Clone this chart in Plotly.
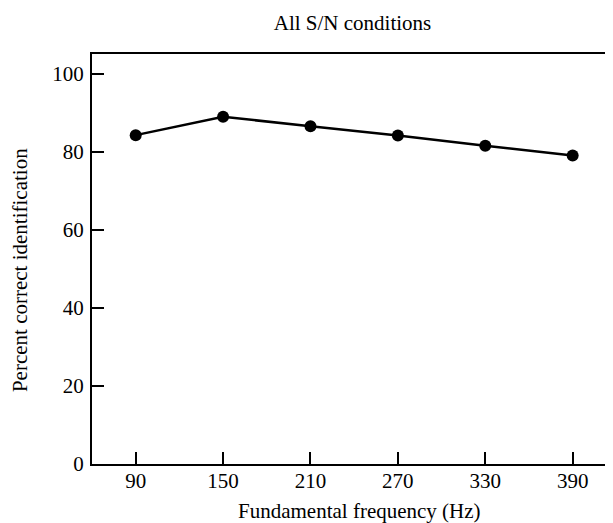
import plotly.graph_objects as go

freq_hz = [90, 150, 210, 270, 330, 390]
percent_correct = [84.3, 89.0, 86.6, 84.2, 81.6, 79.1]
x_ticks = [90, 150, 210, 270, 330, 390]
y_ticks = [0, 20, 40, 60, 80, 100]

FONT = "Liberation Serif"

# The page body has an 8px default margin, so the figure is sized to fit the window.
fig = go.Figure()
fig.add_trace(go.Scatter(
    x=freq_hz, y=percent_correct, mode="lines+markers",
    line=dict(color="black", width=2.5),
    marker=dict(color="black", size=12),
    showlegend=False,
))

fig.update_layout(
    width=605, height=515,
    margin=dict(l=84, r=0, t=46, b=59),
    paper_bgcolor="white", plot_bgcolor="white",
    font=dict(family=FONT, size=21, color="black"),
    title=dict(text="All S/N conditions", x=0.5, xref="paper",
               y=1 - 15 / 515, yref="container", yanchor="middle",
               font=dict(family=FONT, size=21, color="black")),
    xaxis=dict(range=[60, 417.7], tickvals=x_ticks, ticks="inside", ticklen=12,
               tickwidth=1.5, tickcolor="black", showline=True, linewidth=2,
               linecolor="black", mirror=True, showgrid=False, zeroline=False,
               ticklabelstandoff=-3),
    yaxis=dict(range=[0, 105.1], tickvals=y_ticks, ticks="inside", ticklen=12,
               tickwidth=1.5, tickcolor="black", showline=True, linewidth=2,
               linecolor="black", showgrid=False, zeroline=False,
               ticklabelstandoff=2),
    annotations=[
        dict(text="Fundamental frequency (Hz)", xref="paper", yref="paper",
             x=0.514, y=0, yanchor="middle", yshift=-47, showarrow=False,
             font=dict(family=FONT, size=21, color="black")),
        dict(text="Percent correct identification", xref="paper", yref="paper",
             x=0, y=0.473, xanchor="center", yanchor="middle", xshift=-72,
             textangle=-90, showarrow=False,
             font=dict(family=FONT, size=21, color="black")),
    ],
)

fig.write_html("out.html")
